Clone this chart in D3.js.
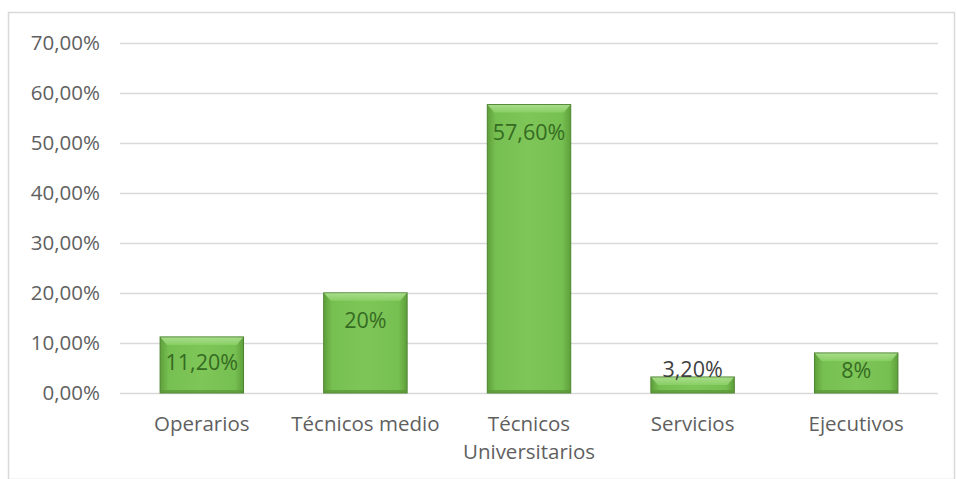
<!DOCTYPE html>
<html>
<head>
<meta charset="utf-8">
<script src="https://cdn.jsdelivr.net/npm/d3@7/dist/d3.min.js"></script>
<style>
  html, body { margin: 0; padding: 0; background: #fff; }
  svg { display: block; }
</style>
</head>
<body>
<svg id="chart" width="957" height="479"></svg>
<script>
// Distribución por categoría de cargo
const categories = ["Operarios", "Técnicos medio", "Técnicos\nUniversitarios", "Servicios", "Ejecutivos"];
const values = [11.2, 20, 57.6, 3.2, 8];
const valueLabels = ["11,20%", "20%", "57,60%", "3,20%", "8%"];
const yTicks = [0, 10, 20, 30, 40, 50, 60, 70];
const yTickLabels = ["0,00%", "10,00%", "20,00%", "30,00%", "40,00%", "50,00%", "60,00%", "70,00%"];

const svg = d3.select("#chart");
const W = 957, H = 479;
const font = "'Open Sans', 'Liberation Sans', sans-serif";

// outer chart frame
svg.append("rect")
  .attr("x", 8.5).attr("y", 12.5)
  .attr("width", W - 11).attr("height", H - 12)
  .attr("fill", "#fff").attr("stroke", "#d9d9d9").attr("stroke-width", 1.5);

const plot = { left: 120, right: 938, top: 42.5, bottom: 393 };

const x = d3.scaleBand()
  .domain(categories)
  .range([plot.left, plot.right])
  .paddingInner(0.49).paddingOuter(0.245);

const y = d3.scaleLinear()
  .domain([0, 70])
  .range([plot.bottom, plot.top]);

// gradients for the bevelled bars
const defs = svg.append("defs");
const hg = defs.append("linearGradient").attr("id", "barFill")
  .attr("x1", "0").attr("x2", "1").attr("y1", "0").attr("y2", "0");
hg.append("stop").attr("offset", "0%").attr("stop-color", "#5e9f3a");
hg.append("stop").attr("offset", "10%").attr("stop-color", "#76bf51");
hg.append("stop").attr("offset", "50%").attr("stop-color", "#7fc659");
hg.append("stop").attr("offset", "90%").attr("stop-color", "#76bf51");
hg.append("stop").attr("offset", "100%").attr("stop-color", "#5e9f3a");

const bev = defs.append("linearGradient").attr("id", "bevel")
  .attr("x1", "0").attr("x2", "0").attr("y1", "0").attr("y2", "1");
bev.append("stop").attr("offset", "0%").attr("stop-color", "#addf90");
bev.append("stop").attr("offset", "100%").attr("stop-color", "#8ad066");

// gridlines
svg.append("g")
  .selectAll("line")
  .data(yTicks)
  .join("line")
  .attr("x1", plot.left).attr("x2", plot.right)
  .attr("y1", d => Math.round(y(d)) + 0.5).attr("y2", d => Math.round(y(d)) + 0.5)
  .attr("stroke", "#d9d9d9").attr("stroke-width", 1.5);

// y axis labels
const yAxis = d3.axisLeft(y).tickValues(yTicks)
  .tickFormat((d, i) => yTickLabels[i]).tickSize(0).tickPadding(0);
const gy = svg.append("g").attr("transform", `translate(${plot.left - 20},0)`).call(yAxis);
gy.select(".domain").remove();
gy.selectAll("text")
  .attr("font-family", font).attr("font-size", 20.5).attr("fill", "#5f5f5f");

// bars
const bars = svg.append("g").selectAll("g.bar")
  .data(values)
  .join("g").attr("class", "bar");

bars.append("rect")
  .attr("x", (d, i) => x(categories[i]))
  .attr("y", d => y(d))
  .attr("width", x.bandwidth())
  .attr("height", d => y(0) - y(d))
  .attr("fill", "url(#barFill)")
  .attr("stroke", "#4d8430").attr("stroke-width", 1);

// top bevel strip
bars.append("path")
  .attr("d", (d, i) => {
    const x0 = x(categories[i]), x1 = x0 + x.bandwidth();
    const t = y(d), b = Math.min(t + 8, y(0));
    return `M${x0 + 0.5},${t + 0.5} L${x1 - 0.5},${t + 0.5} L${x1 - 7},${b} L${x0 + 7},${b} Z`;
  })
  .attr("fill", "url(#bevel)").attr("opacity", 0.9);

// bottom shade
bars.append("rect")
  .attr("x", (d, i) => x(categories[i]) + 0.5)
  .attr("y", d => Math.max(y(0) - 3, y(d)))
  .attr("width", x.bandwidth() - 1)
  .attr("height", d => Math.min(3, y(0) - y(d)))
  .attr("fill", "#5a9636").attr("opacity", 0.7);

// value labels: inside the top of the bar, or above a short bar
const isShort = d => y(0) - y(d) < 25;
svg.append("g").selectAll("text")
  .data(values)
  .join("text")
  .attr("x", (d, i) => x(categories[i]) + x.bandwidth() / 2)
  .attr("y", d => {
    const t = y(d), h = y(0) - t;
    return isShort(d) ? t : Math.min(t + 35, t + h / 2 + 5);
  })
  .attr("text-anchor", "middle")
  .attr("font-family", font).attr("font-size", 21.5)
  .attr("fill", d => (isShort(d) ? "#404040" : "#356b22"))
  .text((d, i) => valueLabels[i]);

// category labels
const xl = svg.append("g").selectAll("text")
  .data(categories)
  .join("text")
  .attr("x", d => x(d) + x.bandwidth() / 2)
  .attr("y", 431)
  .attr("text-anchor", "middle")
  .attr("font-family", font).attr("font-size", 20.5).attr("fill", "#5f5f5f");
xl.each(function(d) {
  const lines = d.split("\n");
  d3.select(this).selectAll("tspan")
    .data(lines)
    .join("tspan")
    .attr("x", x(d) + x.bandwidth() / 2)
    .attr("dy", (l, j) => (j === 0 ? 0 : 28))
    .text(l => l);
});
</script>
</body>
</html>
